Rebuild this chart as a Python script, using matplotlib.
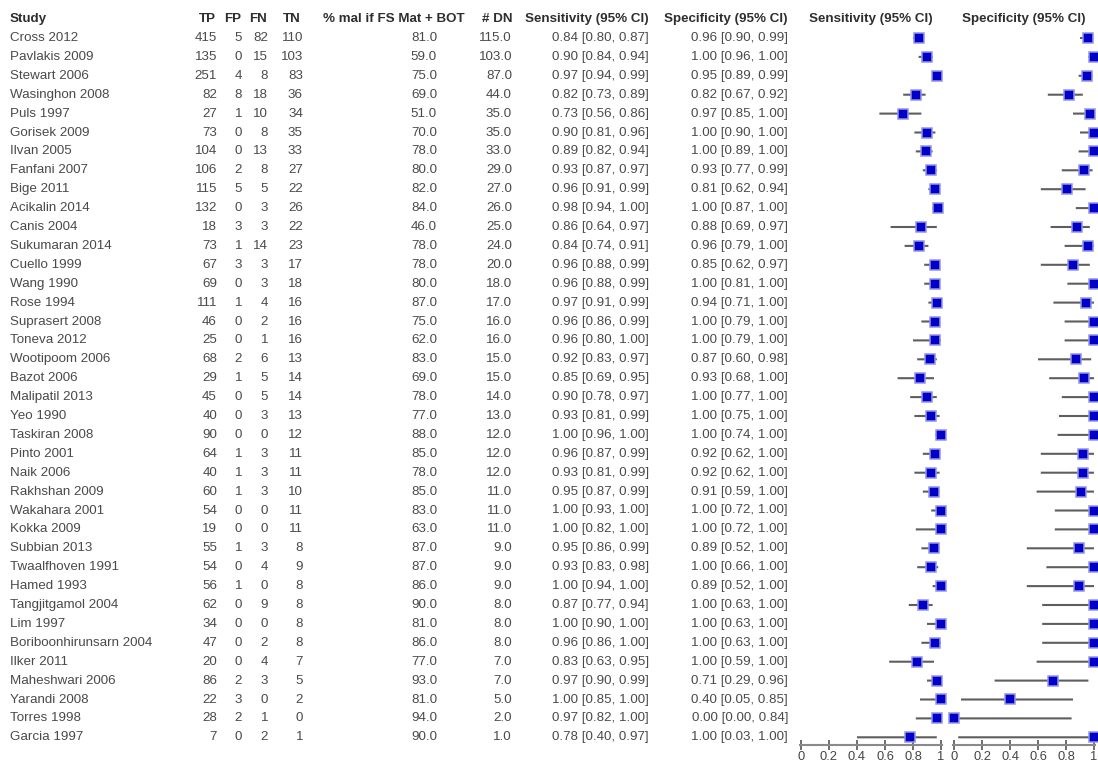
import matplotlib.pyplot as plt

# study table
studies = ["Cross 2012", "Pavlakis 2009", "Stewart 2006", "Wasinghon 2008", "Puls 1997",
           "Gorisek 2009", "Ilvan 2005", "Fanfani 2007", "Bige 2011", "Acikalin 2014",
           "Canis 2004", "Sukumaran 2014", "Cuello 1999", "Wang 1990", "Rose 1994",
           "Suprasert 2008", "Toneva 2012", "Wootipoom 2006", "Bazot 2006", "Malipatil 2013",
           "Yeo 1990", "Taskiran 2008", "Pinto 2001", "Naik 2006", "Rakhshan 2009",
           "Wakahara 2001", "Kokka 2009", "Subbian 2013", "Twaalfhoven 1991", "Hamed 1993",
           "Tangjitgamol 2004", "Lim 1997", "Boriboonhirunsarn 2004", "Ilker 2011",
           "Maheshwari 2006", "Yarandi 2008", "Torres 1998", "Garcia 1997"]
tp = [415, 135, 251, 82, 27, 73, 104, 106, 115, 132, 18, 73, 67, 69, 111, 46, 25, 68, 29,
      45, 40, 90, 64, 40, 60, 54, 19, 55, 54, 56, 62, 34, 47, 20, 86, 22, 28, 7]
fp = [5, 0, 4, 8, 1, 0, 0, 2, 5, 0, 3, 1, 3, 0, 1, 0, 0, 2, 1,
      0, 0, 0, 1, 1, 1, 0, 0, 1, 0, 1, 0, 0, 0, 0, 2, 3, 2, 0]
fn = [82, 15, 8, 18, 10, 8, 13, 8, 5, 3, 3, 14, 3, 3, 4, 2, 1, 6, 5,
      5, 3, 0, 3, 3, 3, 0, 0, 3, 4, 0, 9, 0, 2, 4, 3, 0, 1, 2]
tn = [110, 103, 83, 36, 34, 35, 33, 27, 22, 26, 22, 23, 17, 18, 16, 16, 16, 13, 14,
      14, 13, 12, 11, 11, 10, 11, 11, 8, 9, 8, 8, 8, 8, 7, 5, 2, 0, 1]
mal_pct = [81, 59, 75, 69, 51, 70, 78, 80, 82, 84, 46, 78, 78, 80, 87, 75, 62, 83, 69,
           78, 77, 88, 85, 78, 85, 83, 63, 87, 87, 86, 90, 81, 86, 77, 93, 81, 94, 90]
n_dn = [115, 103, 87, 44, 35, 35, 33, 29, 27, 26, 25, 24, 20, 18, 17, 16, 16, 15, 15,
        14, 13, 12, 12, 12, 11, 11, 11, 9, 9, 9, 8, 8, 8, 7, 7, 5, 2, 1]

sens = [0.84, 0.90, 0.97, 0.82, 0.73, 0.90, 0.89, 0.93, 0.96, 0.98, 0.86, 0.84, 0.96,
        0.96, 0.97, 0.96, 0.96, 0.92, 0.85, 0.90, 0.93, 1.00, 0.96, 0.93, 0.95, 1.00,
        1.00, 0.95, 0.93, 1.00, 0.87, 1.00, 0.96, 0.83, 0.97, 1.00, 0.97, 0.78]
sens_lo = [0.80, 0.84, 0.94, 0.73, 0.56, 0.81, 0.82, 0.87, 0.91, 0.94, 0.64, 0.74, 0.88,
           0.88, 0.91, 0.86, 0.80, 0.83, 0.69, 0.78, 0.81, 0.96, 0.87, 0.81, 0.87, 0.93,
           0.82, 0.86, 0.83, 0.94, 0.77, 0.90, 0.86, 0.63, 0.90, 0.85, 0.82, 0.40]
sens_hi = [0.87, 0.94, 0.99, 0.89, 0.86, 0.96, 0.94, 0.97, 0.99, 1.00, 0.97, 0.91, 0.99,
           0.99, 0.99, 0.99, 1.00, 0.97, 0.95, 0.97, 0.99, 1.00, 0.99, 0.99, 0.99, 1.00,
           1.00, 0.99, 0.98, 1.00, 0.94, 1.00, 1.00, 0.95, 0.99, 1.00, 1.00, 0.97]
spec = [0.96, 1.00, 0.95, 0.82, 0.97, 1.00, 1.00, 0.93, 0.81, 1.00, 0.88, 0.96, 0.85,
        1.00, 0.94, 1.00, 1.00, 0.87, 0.93, 1.00, 1.00, 1.00, 0.92, 0.92, 0.91, 1.00,
        1.00, 0.89, 1.00, 0.89, 1.00, 1.00, 1.00, 1.00, 0.71, 0.40, 0.00, 1.00]
spec_lo = [0.90, 0.96, 0.89, 0.67, 0.85, 0.90, 0.89, 0.77, 0.62, 0.87, 0.69, 0.79, 0.62,
           0.81, 0.71, 0.79, 0.79, 0.60, 0.68, 0.77, 0.75, 0.74, 0.62, 0.62, 0.59, 0.72,
           0.72, 0.52, 0.66, 0.52, 0.63, 0.63, 0.63, 0.59, 0.29, 0.05, 0.00, 0.03]
spec_hi = [0.99, 1.00, 0.99, 0.92, 1.00, 1.00, 1.00, 0.99, 0.94, 1.00, 0.97, 1.00, 0.97,
           1.00, 1.00, 1.00, 1.00, 0.98, 1.00, 1.00, 1.00, 1.00, 1.00, 1.00, 1.00, 1.00,
           1.00, 1.00, 1.00, 1.00, 1.00, 1.00, 1.00, 1.00, 0.96, 0.85, 0.84, 1.00]

tick_vals = [0, 0.2, 0.4, 0.6, 0.8, 1]
tick_labels = ["0", "0.2", "0.4", "0.6", "0.8", "1"]

plt.rcParams['font.family'] = ['Liberation Sans', 'DejaVu Sans']

W, H = 1098, 762
ROW0, STEP = 38.0, 18.9
FS = 9.6
TXT = '#4a4a4a'
HDR = '#2e2e2e'
rows = list(range(len(studies)))


def row_lim(top_px, bottom_px):
    return (bottom_px - ROW0) / STEP, (top_px - ROW0) / STEP


fig = plt.figure(figsize=(W / 100, H / 100), dpi=100)

tab = fig.add_axes([0, 0, 1, 1])
tab.set_xlim(0, W)
tab.set_ylim(*row_lim(0, H))
tab.axis('off')


def ci_text(v, lo, hi):
    return "{:.2f} [{:.2f}, {:.2f}]".format(v, lo, hi)


# (header, header x, header align, value x, value align, values)
columns = [
    ("Study", 10, 'left', 10, 'left', studies),
    ("TP", 216, 'right', 217, 'right', [str(v) for v in tp]),
    ("FP", 241, 'right', 242, 'right', [str(v) for v in fp]),
    ("FN", 267, 'right', 268, 'right', [str(v) for v in fn]),
    ("TN", 301, 'right', 303, 'right', [str(v) for v in tn]),
    ("% mal if FS Mat + BOT", 323, 'left', 437, 'right', ["{:.1f}".format(v) for v in mal_pct]),
    ("# DN", 512, 'right', 512, 'right', ["{:.1f}".format(v) for v in n_dn]),
    ("Sensitivity (95% CI)", 649, 'right', 649, 'right',
     [ci_text(*t) for t in zip(sens, sens_lo, sens_hi)]),
    ("Specificity (95% CI)", 788, 'right', 788, 'right',
     [ci_text(*t) for t in zip(spec, spec_lo, spec_hi)]),
]

for head, hx, hha, vx, vha, vals in columns:
    tab.text(hx, -1, head, ha=hha, va='center', fontsize=FS, fontweight='bold', color=HDR)
    for r, s in zip(rows, vals):
        tab.text(vx, r, s, ha=vha, va='center', fontsize=FS, color=TXT)


# forest plots
AX_BOTTOM = 745
SCALE = 140.0


def forest(x0, est, lo, hi, title):
    left = x0 - 0.01 * SCALE
    ax = fig.add_axes([left / W, (H - AX_BOTTOM) / H, 1.02 * SCALE / W, AX_BOTTOM / H])
    ax.set_xlim(-0.01, 1.01)
    ax.set_ylim(*row_lim(0, AX_BOTTOM))
    ax.patch.set_alpha(0)
    for s in ['top', 'left', 'right']:
        ax.spines[s].set_visible(False)
    ax.spines['bottom'].set_color('#8a8a8a')
    ax.spines['bottom'].set_linewidth(1.5)
    ax.set_yticks([])
    ax.set_xticks(tick_vals)
    ax.set_xticklabels(tick_labels)
    ax.tick_params(axis='x', direction='inout', length=7, width=1.2, color='#555555',
                   labelsize=9.3, labelcolor='#444444', pad=1)
    ax.text(0.5, -1, title, ha='center', va='center', fontsize=FS, fontweight='bold',
            color=HDR, clip_on=False)
    ax.hlines(rows, lo, hi, color='#5e5e5e', lw=1.5, snap=False, clip_on=False)
    ax.plot(est, rows, ls='none', marker='s', ms=7.0, mfc='#0000c8', mec='#9494e8',
            mew=1.1, clip_on=False)
    return ax


forest(801, sens, sens_lo, sens_hi, "Sensitivity (95% CI)")
forest(954, spec, spec_lo, spec_hi, "Specificity (95% CI)")

fig.savefig('out.png', dpi=100)
